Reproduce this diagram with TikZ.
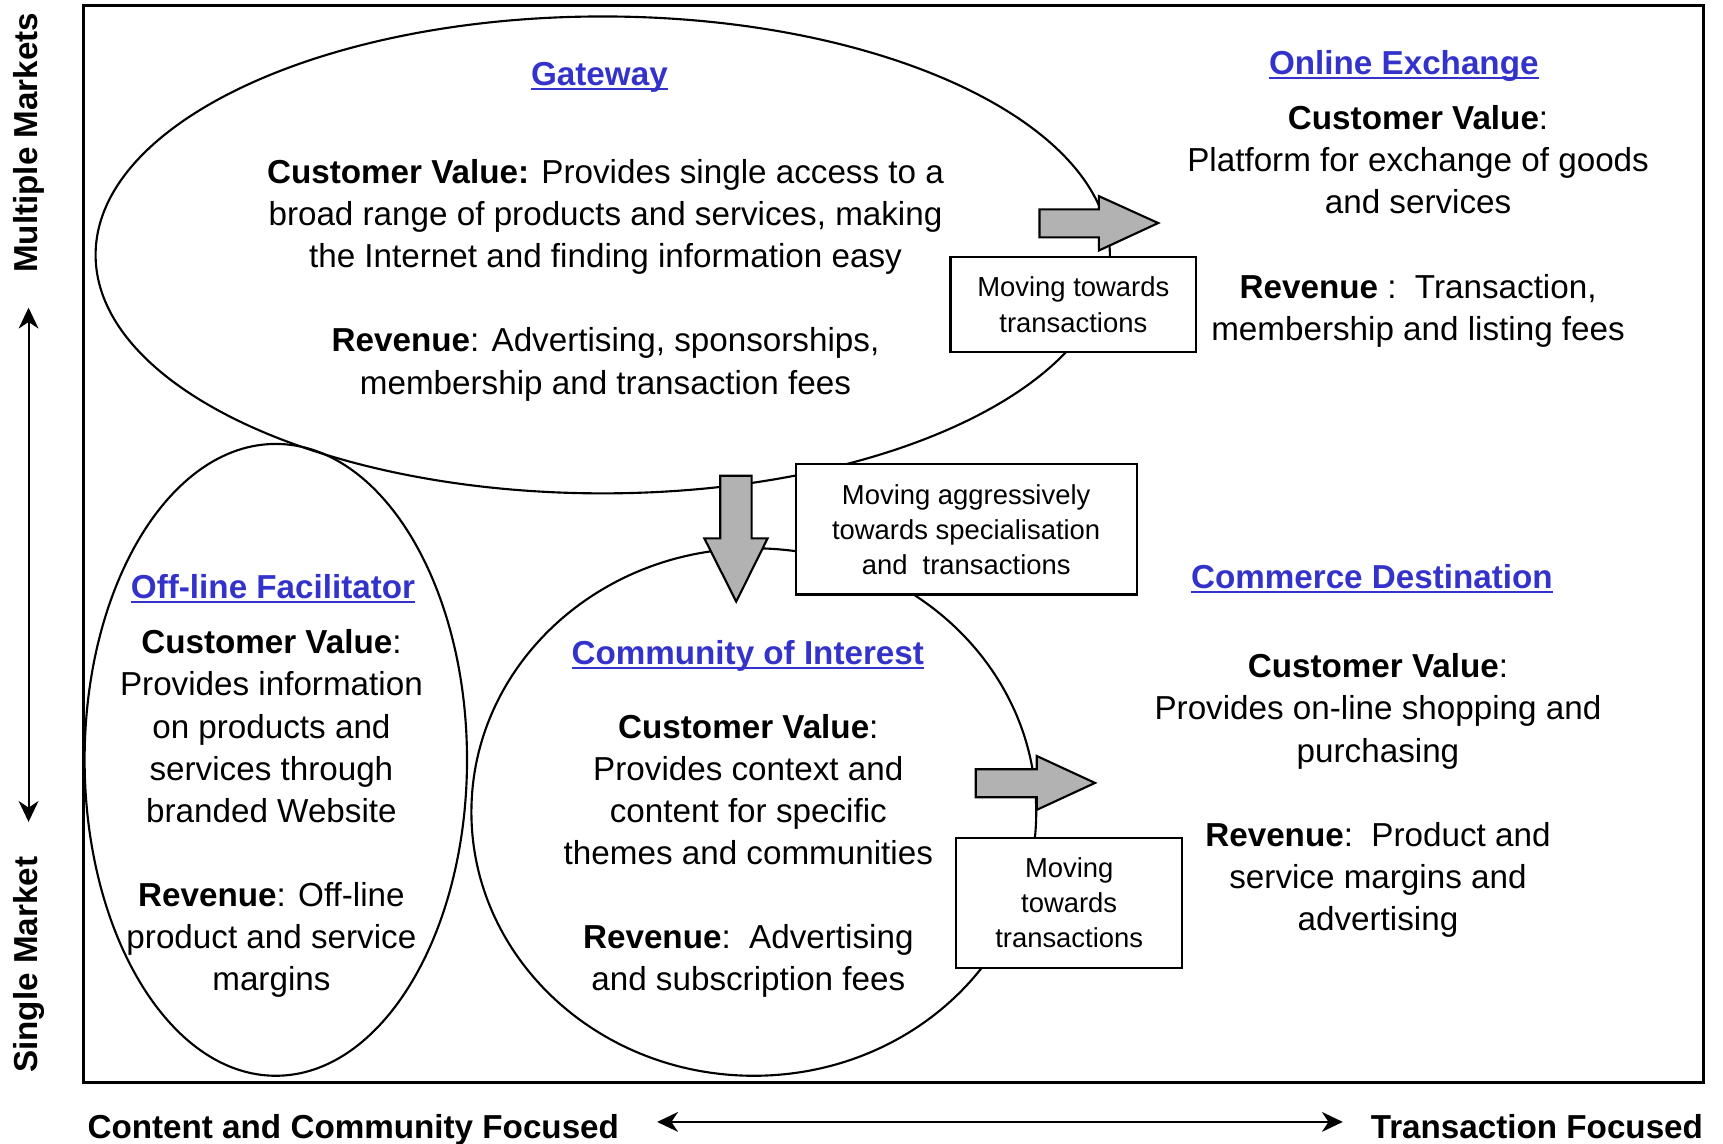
\documentclass[tikz,border=0pt]{standalone}
\usepackage{fontspec}
\setmainfont{Liberation Sans}
\usetikzlibrary{shapes.geometric,arrows.meta,positioning}
\definecolor{titleblue}{RGB}{51,51,204}
% underlined model name
\newcommand{\ultitle}[1]{\sbox0{#1}\rlap{\rule[-2.4pt]{\wd0}{1.1pt}}\usebox0}

\begin{document}
\begin{tikzpicture}[
    model/.style={draw, ellipse, line width=1.1pt, inner sep=0pt},
    title/.style={font=\fontsize{17.2}{21.8}\selectfont\bfseries, text=titleblue},
    body/.style={font=\fontsize{17.2}{21.8}\selectfont, align=center},
    movebox/.style={draw, fill=white, line width=1.1pt, inner sep=0pt,
      font=\fontsize{14.2}{18.2}\selectfont, align=center},
    blockarrow/.style={draw, fill=gray!60, line width=1.1pt, line join=miter},
    axis/.style={line width=1.1pt, {Stealth[length=3.8mm,width=3.6mm,inset=1.2mm]}-{Stealth[length=3.8mm,width=3.6mm,inset=1.2mm]}},
    axislabel/.style={font=\fontsize{17.2}{21.8}\selectfont\bfseries}]
  \useasboundingbox (0,0) rectangle (31.36,20.82);
  \draw[line width=1.5pt] (1.52,1.12) rectangle (31.0,20.72);

  % the four business models
  \node[model, minimum width=18.46cm, minimum height=8.68cm] (gateway) at (10.97,16.18) {};
  \node[model, minimum width=6.96cm, minimum height=11.5cm] (offline) at (5.02,6.99) {};
  \node[model, minimum width=10.28cm, minimum height=9.6cm] (community) at (13.72,6.04) {};

  % block arrows
  \draw[blockarrow] (18.92,17.01) -- (20.0,17.01) -- (20.0,17.25) -- (21.08,16.76)
    -- (20.0,16.26) -- (20.0,16.5) -- (18.92,16.5) -- cycle;
  \draw[blockarrow] (13.11,12.16) -- (13.68,12.16) -- (13.68,11.02) -- (13.97,11.02)
    -- (13.40,9.87) -- (12.82,11.02) -- (13.11,11.02) -- cycle;
  \draw[blockarrow] (17.76,6.82) -- (18.87,6.82) -- (18.87,7.06) -- (19.93,6.57)
    -- (18.87,6.08) -- (18.87,6.31) -- (17.76,6.31) -- cycle;

  % moves between models
  \node[movebox, minimum width=4.47cm, minimum height=1.73cm] (move1) at (19.535,15.275)
    {Moving towards\\transactions};
  \node[movebox, minimum width=6.21cm, minimum height=2.37cm] (move2) at (17.585,11.185)
    {Moving aggressively\\towards specialisation\\and\ \ transactions};
  \node[movebox, minimum width=4.12cm, minimum height=2.37cm] (move3) at (19.46,4.385)
    {Moving\\towards\\transactions};

  % Gateway
  \node[title] (gwtitle) at (10.91,19.42) {\ultitle{Gateway}};
  \node[body] (gwtext) at (11.02,15.72) {\textbf{Customer Value:} Provides single access to a\\
    broad range of products and services, making\\the Internet and finding information easy\\[\baselineskip]
    \textbf{Revenue}: Advertising, sponsorships,\\membership and transaction fees};
  % Online Exchange
  \node[title] (oxtitle) at (25.55,19.62) {\ultitle{Online Exchange}};
  \node[body] (oxtext) at (25.81,16.70) {\textbf{Customer Value}:\\Platform for exchange of goods\\
    and services\\[\baselineskip]\textbf{Revenue} :\ \ Transaction,\\membership and listing fees};
  % Off-line Facilitator
  \node[title] (oftitle) at (4.97,10.10) {\ultitle{Off-line Facilitator}};
  \node[body] (oftext) at (4.94,6.01) {\textbf{Customer Value}:\\Provides information\\on products and\\
    services through\\branded Website\\[\baselineskip]\textbf{Revenue}: Off-line\\product and service\\margins};
  % Community of Interest
  \node[title] (cititle) at (13.61,8.88) {\ultitle{Community of Interest}};
  \node[body] (citext) at (13.62,5.24) {\textbf{Customer Value}:\\Provides context and\\content for specific\\
    themes and communities\\[\baselineskip]\textbf{Revenue}:\ \ Advertising\\and subscription fees};
  % Commerce Destination
  \node[title] (cdtitle) at (24.97,10.28) {\ultitle{Commerce Destination}};
  \node[body] (cdtext) at (25.08,6.34) {\textbf{Customer Value}:\\Provides on-line shopping and\\purchasing\\[\baselineskip]
    \textbf{Revenue}:\ \ Product and\\service margins and\\advertising};

  % axes
  \node[axislabel, rotate=90] (multi) at (0.52,18.22) {Multiple Markets};
  \node[axislabel, rotate=90] (single) at (0.52,3.26) {Single Market};
  \coordinate (ytop) at (0.52,15.22);
  \coordinate (ybot) at (0.52,5.86);
  \draw[axis] (ybot) -- (ytop);
  \node[axislabel, anchor=base west] (content) at (1.47,0.10) {Content and Community Focused};
  \node[axislabel, anchor=base east] (trans) at (31.12,0.10) {Transaction Focused};
  \coordinate (xleft) at (11.96,0.4);
  \coordinate (xright) at (24.44,0.4);
  \draw[axis] (xleft) -- (xright);
\end{tikzpicture}
\end{document}
